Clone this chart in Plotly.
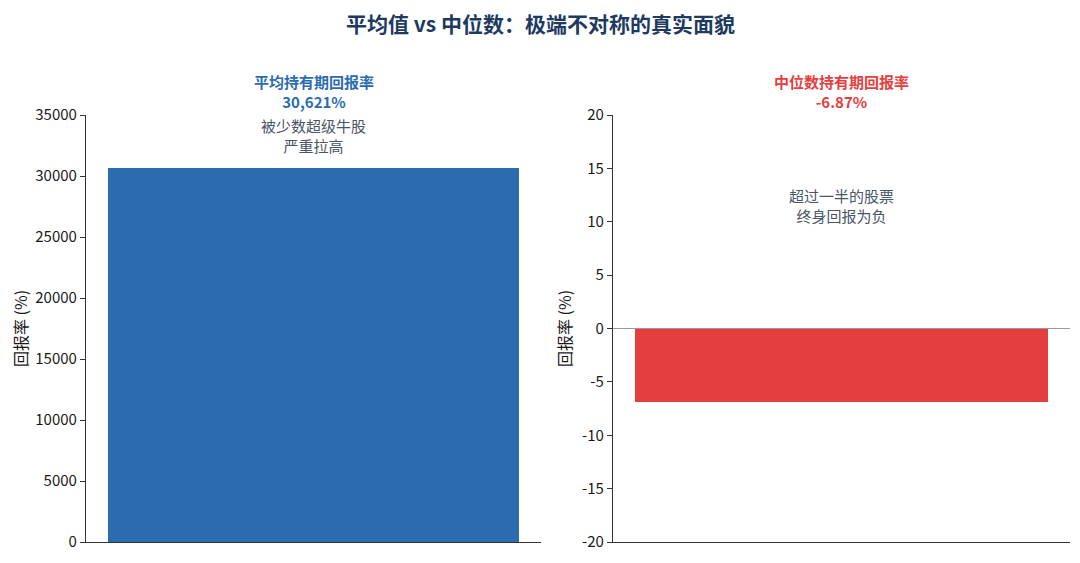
import plotly.graph_objects as go

title_text = "平均值 vs 中位数：极端不对称的真实面貌"
categories = ["平均持有期回报率", "中位数持有期回报率"]
values = [30621, -6.87]
value_labels = ["30,621%", "-6.87%"]
notes = ["被少数超级牛股<br>严重拉高", "超过一半的股票<br>终身回报为负"]
colors = ["#2b6cb0", "#e53e3e"]
left_ticks = [0, 5000, 10000, 15000, 20000, 25000, 30000, 35000]
right_ticks = [-20, -15, -10, -5, 0, 5, 10, 15, 20]

FONT = "Noto Sans CJK SC"
W, H, OFF = 1072, 555, 8  # page body margin offsets the figure by 8px


def px(x):
    return (x - OFF) / W


def py(y):
    return 1 - (y - OFF) / H


fig = go.Figure()

fig.add_trace(go.Bar(x=[0], y=[values[0]], width=0.905, marker=dict(color=colors[0], line=dict(width=0)),
                     xaxis="x", yaxis="y", showlegend=False, hoverinfo="skip"))
fig.add_trace(go.Bar(x=[0], y=[values[1]], width=0.905, marker=dict(color=colors[1], line=dict(width=0)),
                     xaxis="x2", yaxis="y2", showlegend=False, hoverinfo="skip"))

ydom = [py(542), py(115)]
xdom1 = [px(86), px(541)]
xdom2 = [px(613), px(1070)]

common_x = dict(range=[-0.5, 0.5], showticklabels=False, ticks="", showline=True, automargin=False,
                linecolor="#333333", linewidth=1.2, showgrid=False, zeroline=False, fixedrange=True)
common_y = dict(showline=True, linecolor="#333333", linewidth=1.2, ticks="outside", ticklen=5,
                tickcolor="#333333", showgrid=False, automargin=False,
                tickfont=dict(family=FONT, size=15, color="#1a1a1a"))

fig.update_layout(
    width=W, height=H,
    margin=dict(l=0, r=0, t=0, b=0),
    paper_bgcolor="white", plot_bgcolor="white",
    font=dict(family=FONT),
    xaxis=dict(domain=xdom1, anchor="y", **common_x),
    yaxis=dict(domain=ydom, anchor="x", range=[0, 35000], tickvals=left_ticks,
               ticktext=[str(t) for t in left_ticks], zeroline=False,
               title=dict(text="回报率 (%)", font=dict(family=FONT, size=16, color="#1a1a1a"), standoff=10),
               **common_y),
    xaxis2=dict(domain=xdom2, anchor="y2", **common_x),
    yaxis2=dict(domain=ydom, anchor="x2", range=[-20, 20], tickvals=right_ticks,
                ticktext=[str(t) for t in right_ticks],
                zeroline=True, zerolinecolor="#999999", zerolinewidth=1.2,
                title=dict(text="回报率 (%)", font=dict(family=FONT, size=16, color="#1a1a1a"), standoff=6),
                **common_y),
    bargap=0,
)

# main title as an annotation
fig.add_annotation(xref="paper", yref="paper", x=px(540), y=py(23), text=f"<b>{title_text}</b>",
                   showarrow=False, xanchor="center", yanchor="middle",
                   font=dict(family=FONT, size=21, color="#1e3a5f"))

# subplot titles
for xd, cat, lab, col in zip([xdom1, xdom2], categories, value_labels, colors):
    fig.add_annotation(xref="paper", yref="paper", x=(xd[0] + xd[1]) / 2, y=py(91),
                       text=f"<b>{cat}<br>{lab}</b>", showarrow=False, xanchor="center", yanchor="middle",
                       font=dict(family=FONT, size=15, color=col), align="center")

fig.add_annotation(xref="x", yref="y", x=0, y=33300, text=notes[0], showarrow=False,
                   font=dict(family=FONT, size=15, color="#4a5568"), align="center", yanchor="middle")
fig.add_annotation(xref="x2", yref="y2", x=0, y=11.5, text=notes[1], showarrow=False,
                   font=dict(family=FONT, size=15, color="#4a5568"), align="center", yanchor="middle")

fig.write_html("out.html")
